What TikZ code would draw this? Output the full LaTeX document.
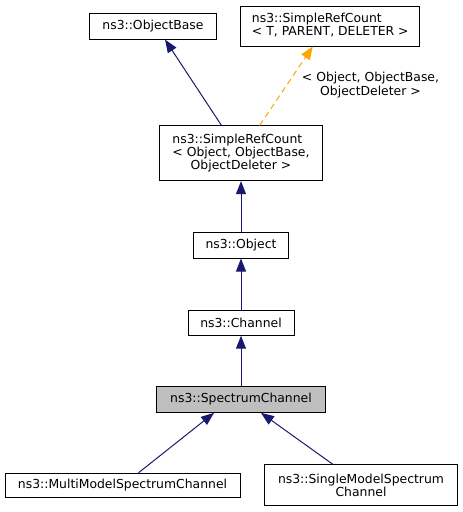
\documentclass[tikz,border=0pt]{standalone}
\usepackage{fontspec}
\setmainfont{DejaVu Sans}
\usetikzlibrary{arrows.meta,calc}
\definecolor{navyline}{HTML}{191970}
\definecolor{orangeline}{HTML}{FFA500}
\definecolor{focusgray}{HTML}{BFBFBF}
\begin{document}
\begin{tikzpicture}[x=1pt,y=-1pt,
  cls/.style={draw=black,line width=1pt,inner sep=0pt,align=center,font=\fontsize{12.4}{14.7}\selectfont},
  inh/.style={draw=navyline,line width=1pt,-{Triangle[length=13pt,width=10pt,fill=navyline]}},
  tmpl/.style={draw=orangeline,line width=1pt,dash pattern=on 6pt off 4pt,-{Triangle[length=13pt,width=10pt,fill=orangeline]}},
  lbl/.style={inner sep=0pt,align=center,font=\fontsize{12.4}{14.7}\selectfont}]
\useasboundingbox (0,0) rectangle (463,512);
\node[cls,minimum width=127pt,minimum height=25.7pt] (objbase) at (153,26.2) {ns3::ObjectBase};
\node[cls,minimum width=179.3pt,minimum height=40pt] (srct) at (330.3,26) {\begin{tabular}{@{}l@{}}ns3::SimpleRefCount\\[-1.5pt]< T, PARENT, DELETER >\end{tabular}};
\node[cls,minimum width=162.7pt,minimum height=54.7pt] (srcobj) at (241,153.3) {\begin{tabular}{@{}l@{}}ns3::SimpleRefCount\\[-1.5pt]< Object, ObjectBase,\\[-1.5pt]\multicolumn{1}{@{}c@{}}{ObjectDeleter >}\end{tabular}};
\node[cls,minimum width=95pt,minimum height=26pt] (object) at (241,245) {ns3::Object};
\node[cls,minimum width=106pt,minimum height=25pt] (channel) at (241,322.7) {ns3::Channel};
\node[cls,fill=focusgray,minimum width=168.3pt,minimum height=25.7pt] (spectrum) at (241,399.5) {ns3::SpectrumChannel};
\node[cls,minimum width=235pt,minimum height=24pt] (multi) at (122.5,485.3) {ns3::MultiModelSpectrumChannel};
\node[cls,minimum width=193.3pt,minimum height=40.7pt] (single) at (361,485.3) {ns3::SingleModelSpectrum\\[-1.5pt]Channel};
\node[lbl] (tlabel) at (370.5,85) {< Object, ObjectBase,\\[-1.5pt]ObjectDeleter >};
\draw[inh] ($(srcobj.north)+(-19.5,0)$) -- ($(objbase.south)+(12,0)$);
\draw[tmpl] ($(srcobj.north)+(18.5,0)$) -- ($(srct.south)+(-17.5,0)$);
\draw[inh] (object.north) -- (srcobj.south);
\draw[inh] (channel.north) -- (object.south);
\draw[inh] (spectrum.north) -- (channel.south);
\draw[inh] ($(multi.north)+(16,0)$) -- ($(spectrum.south)+(-27,0)$);
\draw[inh] ($(single.north)+(-28,0)$) -- ($(spectrum.south)+(20,0)$);
\end{tikzpicture}
\end{document}
